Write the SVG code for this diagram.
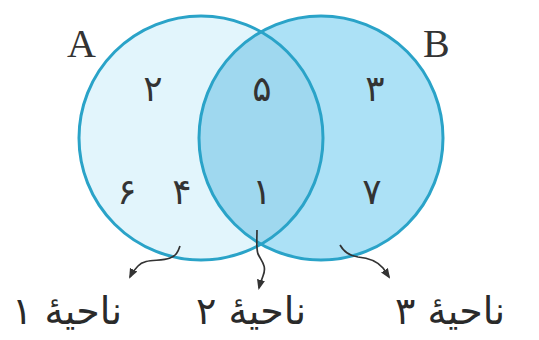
<svg xmlns="http://www.w3.org/2000/svg" width="539" height="340" viewBox="0 0 539 340">
<style>
.ring{fill:none;stroke:#2aa3c8;stroke-width:3}
.lbl{font-family:"Liberation Serif",serif;font-size:40px;fill:#333}
.num{font-family:"DejaVu Sans",sans-serif;font-size:36px;fill:#333;text-anchor:middle}
.reg{font-family:"DejaVu Sans",sans-serif;font-size:38px;fill:#2a2a2a;text-anchor:middle}
.con{fill:none;stroke:#333;stroke-width:1.7}
</style>
<defs>
<clipPath id="clipA"><circle cx="201" cy="138" r="122"/></clipPath>
<marker id="ah" viewBox="0 0 10 10" refX="8" refY="5" markerWidth="6" markerHeight="6" orient="auto"><path d="M0,1 L10,5 L0,9 Z" fill="#333"/></marker>
</defs>
<rect width="539" height="340" fill="#fff"/>
<g id="setA">
<circle cx="201" cy="138" r="122" fill="#e2f5fc"/>
</g>
<g id="setB">
<circle cx="321" cy="138" r="122" fill="#ace1f6"/>
</g>
<g id="intersection">
<circle cx="321" cy="138" r="122" fill="#9fd8ef" clip-path="url(#clipA)"/>
</g>
<circle class="ring" cx="201" cy="138" r="122"/>
<circle class="ring" cx="321" cy="138" r="122"/>
<text class="lbl" x="67" y="57">A</text>
<text class="lbl" x="423" y="57">B</text>
<g id="numbers">
<text class="num" x="153" y="101">۲</text>
<text class="num" x="262" y="101">۵</text>
<text class="num" x="375" y="101">۳</text>
<text class="num" x="127" y="204">۶</text>
<text class="num" x="182" y="204">۴</text>
<text class="num" x="262" y="204">۱</text>
<text class="num" x="372" y="204">۷</text>
</g>
<g id="connectors">
<path class="con" marker-end="url(#ah)" d="M180,246 C178,252 176,256 170,258 C160,262 145,258 138,266 C134,270 132,273 130,277"/>
<path class="con" marker-end="url(#ah)" d="M257,230 C257,240 256,248 258,254 C262,262 267,266 263,276 C261,281 260,284 259,288"/>
<path class="con" marker-end="url(#ah)" d="M340,245 C344,252 350,256 358,257 C370,258 378,262 383,268 C386,272 387,274 389,277"/>
</g>
<g id="region1"><text class="reg" x="67" y="324" direction="rtl">ناحیهٔ ۱</text></g>
<g id="region2"><text class="reg" x="251" y="324" direction="rtl">ناحیهٔ ۲</text></g>
<g id="region3"><text class="reg" x="450" y="324" direction="rtl">ناحیهٔ ۳</text></g>
</svg>
